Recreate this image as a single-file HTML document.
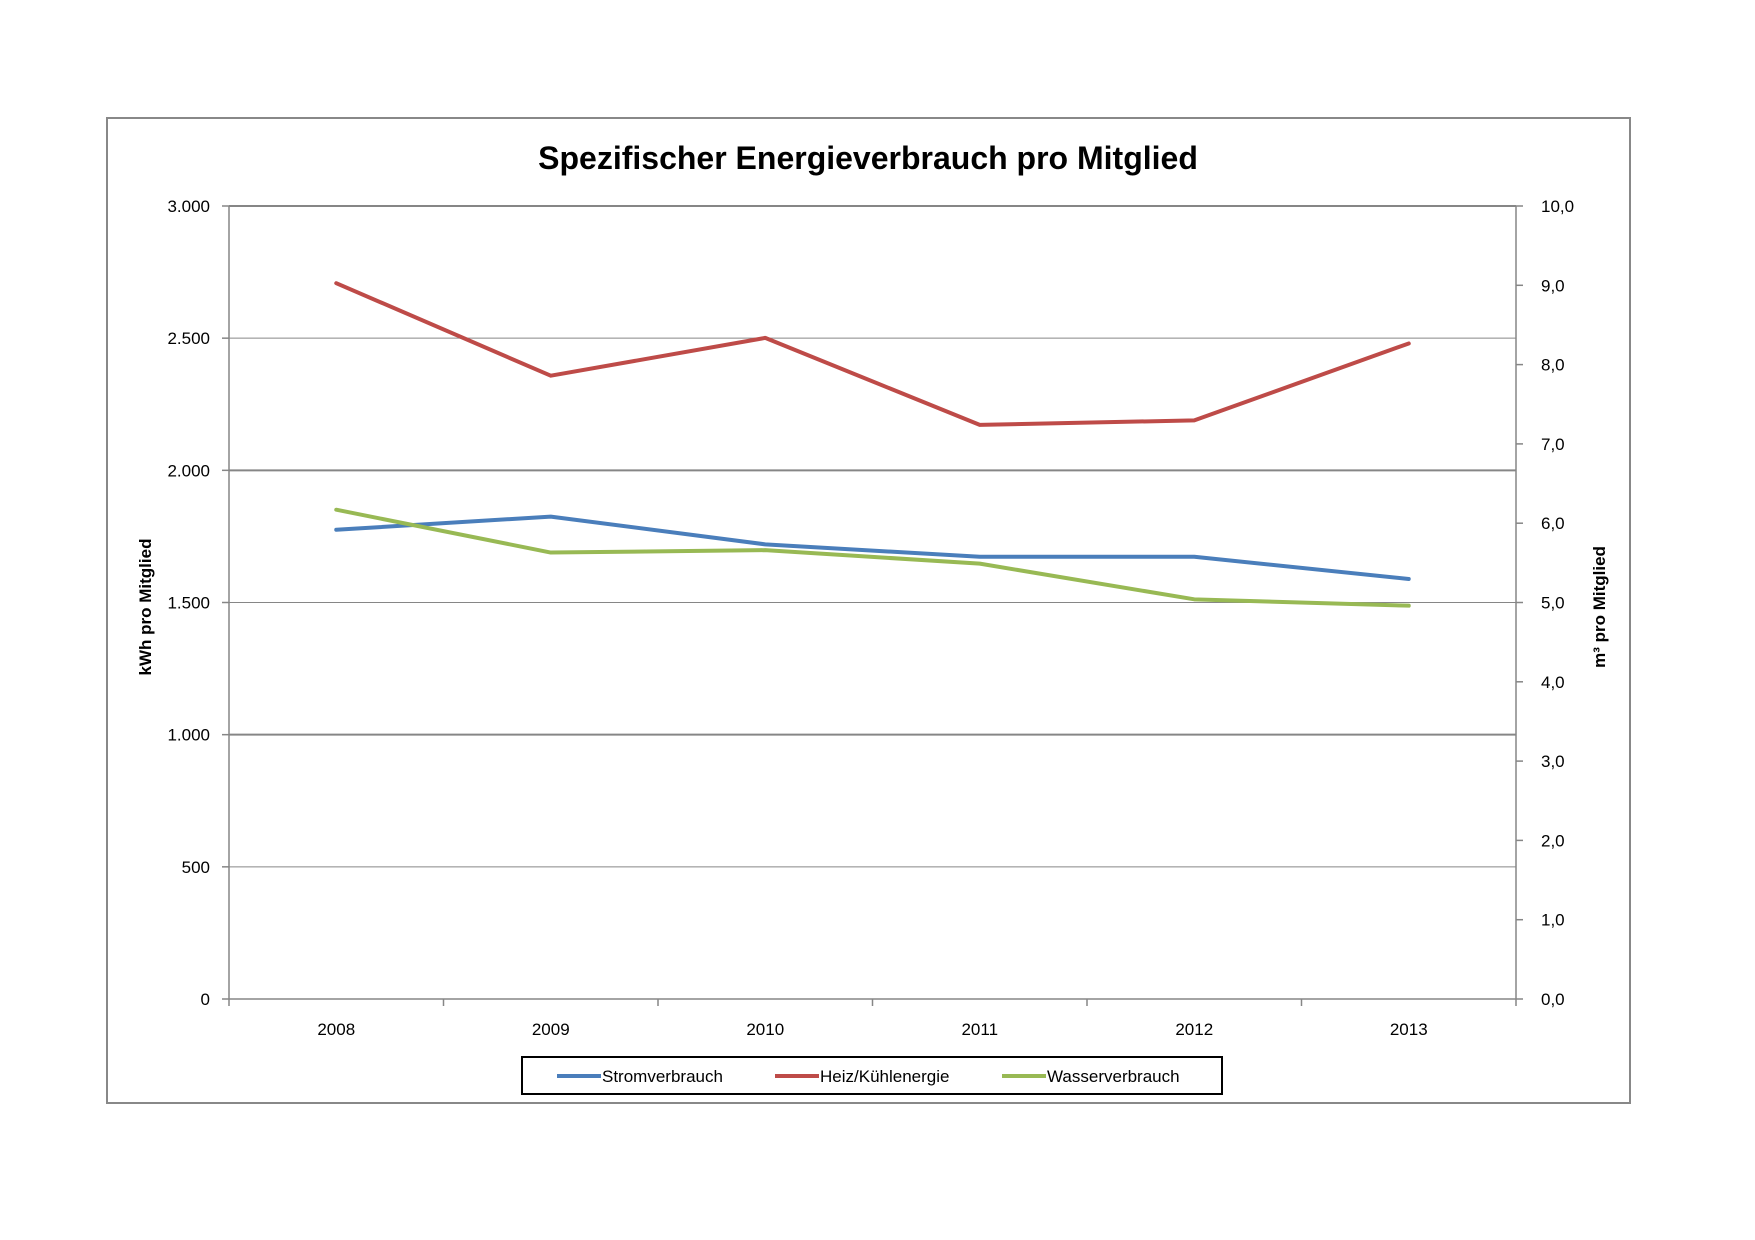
<!DOCTYPE html>
<html><head><meta charset="utf-8"><style>
body{margin:0;background:#fff;}
svg{display:block;font-family:"Liberation Sans",sans-serif;}
</style></head><body>
<svg id="chart" width="1755" height="1240" viewBox="0 0 1755 1240">
<rect x="107" y="118" width="1523" height="985" fill="#fff" stroke="#888" stroke-width="2"/>
<text x="868" y="169" text-anchor="middle" font-size="32" font-weight="bold">Spezifischer Energieverbrauch pro Mitglied</text>
<g id="grid"></g><g id="axes"></g><g id="series"></g>
<text transform="translate(151,607) rotate(-90)" text-anchor="middle" font-size="17" font-weight="bold">kWh pro Mitglied</text>
<text transform="translate(1605,607) rotate(-90)" text-anchor="middle" font-size="17" font-weight="bold">m³ pro Mitglied</text>
<g>
<rect x="522" y="1057" width="700" height="37" fill="#fff" stroke="#000" stroke-width="2"/>
<line x1="557" y1="1076" x2="601" y2="1076" stroke="#4a7ebb" stroke-width="4"/>
<text x="602" y="1082" font-size="17">Stromverbrauch</text>
<line x1="775" y1="1076" x2="819" y2="1076" stroke="#be4b48" stroke-width="4"/>
<text x="820" y="1082" font-size="17">Heiz/Kühlenergie</text>
<line x1="1002" y1="1076" x2="1046" y2="1076" stroke="#98b954" stroke-width="4"/>
<text x="1047" y="1082" font-size="17">Wasserverbrauch</text>
</g>
</svg>
<script>
const categories=["2008","2009","2010","2011","2012","2013"];
const strom=[1775,1825,1720,1673,1673,1589];
const heiz=[2708,2358,2501,2172,2189,2480];
const wasser=[6.17,5.63,5.66,5.49,5.04,4.96];
const leftTicks=[0,500,1000,1500,2000,2500,3000];
const leftLabels=["0","500","1.000","1.500","2.000","2.500","3.000"];
const rightTicks=[0,1,2,3,4,5,6,7,8,9,10];
const rightLabels=["0,0","1,0","2,0","3,0","4,0","5,0","6,0","7,0","8,0","9,0","10,0"];
const X0=229,X1=1516,Y0=999,Y1=206;
const ns="http://www.w3.org/2000/svg";
const yL=v=>Y0-(v/3000)*(Y0-Y1);
const yR=v=>Y0-(v/10)*(Y0-Y1);
const bw=(X1-X0)/categories.length;
const xC=i=>X0+bw*(i+0.5);
function mk(t,a,p){const e=document.createElementNS(ns,t);for(const k in a)e.setAttribute(k,a[k]);p.appendChild(e);return e;}
const grid=document.getElementById('grid'),axes=document.getElementById('axes'),ser=document.getElementById('series');
leftTicks.forEach((v,i)=>{
  const y=yL(v);
  if(v>0){const g=mk('line',{x1:X0,x2:X1,y1:y,y2:y,stroke:'#868686','stroke-width':(i%2==0?2:1)},grid);
  
  }
  mk('line',{x1:X0-7,x2:X0,y1:y,y2:y,stroke:'#868686','stroke-width':1.5},axes);
  const t=mk('text',{x:X0-19,y:y+6,'text-anchor':'end','font-size':17},axes);t.textContent=leftLabels[i];
  
  
});
rightTicks.forEach((v,i)=>{
  const y=yR(v);
  mk('line',{x1:X1,x2:X1+7,y1:y,y2:y,stroke:'#868686','stroke-width':1.5},axes);
  const t=mk('text',{x:X1+25,y:y+6,'font-size':17},axes);t.textContent=rightLabels[i];
  
  
});
mk('line',{x1:X0,x2:X0,y1:Y1,y2:Y0,stroke:'#868686','stroke-width':1.5},axes);
mk('line',{x1:X1,x2:X1,y1:Y1,y2:Y0,stroke:'#868686','stroke-width':1.5},axes);
mk('line',{x1:X0,x2:X1,y1:Y0,y2:Y0,stroke:'#868686','stroke-width':1.5},axes);
for(let i=0;i<=categories.length;i++){mk('line',{x1:X0+bw*i,x2:X0+bw*i,y1:Y0,y2:Y0+7,stroke:'#868686','stroke-width':1.5},axes);}
categories.forEach((c,i)=>{const t=mk('text',{x:xC(i),y:Y0+36,'text-anchor':'middle','font-size':17},axes);t.textContent=c;
  
  });
function line(data,fy,color,name){
  const pts=data.map((v,i)=>xC(i)+','+fy(v)).join(' ');
  const p=mk('polyline',{points:pts,fill:'none',stroke:color,'stroke-width':4,'stroke-linejoin':'round','stroke-linecap':'round'},ser);
  
  
}
line(heiz,yL,'#be4b48','heiz-line');
line(strom,yL,'#4a7ebb','strom-line');
line(wasser,yR,'#98b954','wasser-line');
</script>
</body></html>
